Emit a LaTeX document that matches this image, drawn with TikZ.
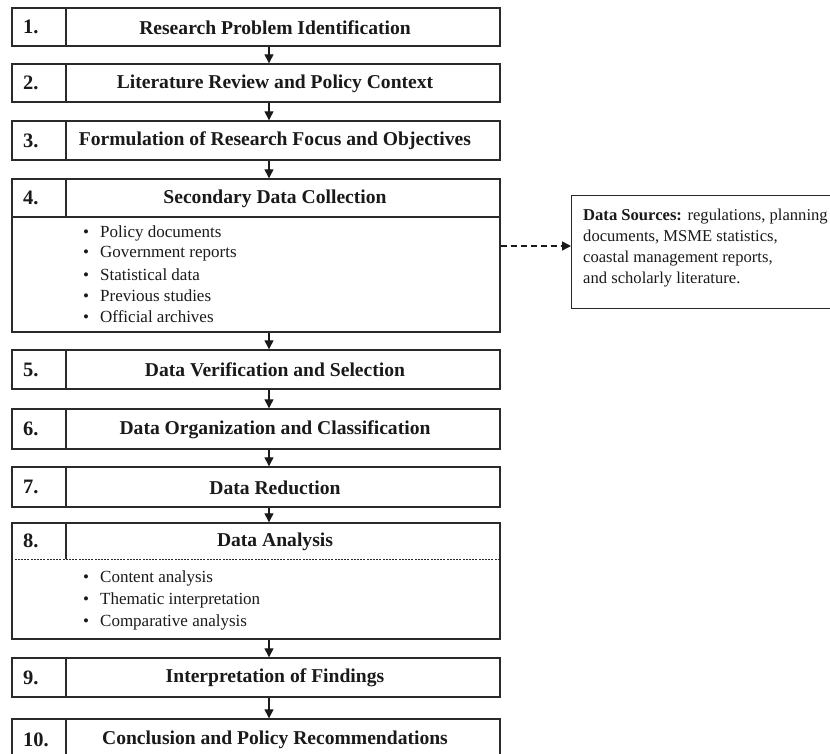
\documentclass[tikz,border=0pt]{standalone}
\usepackage{fontspec}
\setmainfont{Liberation Serif}
\usetikzlibrary{arrows.meta}
\definecolor{ink}{HTML}{1A1A1A}
\definecolor{edge}{HTML}{2A2A2A}
\tikzset{
  stepbox/.style={draw=edge, line width=1.4pt, minimum width=488pt, inner sep=0pt, fill=none},
  numtxt/.style={anchor=west, text=ink, font=\fontsize{20.5}{22}\selectfont\bfseries, inner sep=0pt},
  titletxt/.style={text=ink, font=\fontsize{19.6}{22}\selectfont\bfseries, inner sep=0pt},
  itemtxt/.style={anchor=west, text=ink, font=\fontsize{17}{21}\selectfont, inner sep=0pt},
  flow/.style={draw=ink, line width=1.3pt, -{Triangle[length=9pt,width=9pt]}},
  divider/.style={draw=edge, line width=1.4pt},
}
\begin{document}
\begin{tikzpicture}[x=1pt,y=-1pt]
\clip (0,0) rectangle (830,754);
\fill[white] (0,0) rectangle (830,754);
\coordinate (ax) at (269,0);
% steps: number / top / bottom / header bottom / title
\foreach \n/\t/\b/\h/\txt in {
  1/8/46/46/Research Problem Identification,
  2/64/102/102/Literature Review and Policy Context,
  3/121/160/160/Formulation of Research Focus and Objectives,
  4/179/332/217/Secondary Data Collection,
  5/350/389/389/Data Verification and Selection,
  6/409/449/449/Data Organization and Classification,
  7/467/507/507/Data Reduction,
  8/523/639/559/Data Analysis,
  9/658/697/697/Interpretation of Findings,
  10/719/760/760/Conclusion and Policy Recommendations}{
  \pgfmathsetmacro{\cy}{(\t+\b)/2}
  \pgfmathsetmacro{\hh}{\b-\t}
  \pgfmathsetmacro{\my}{(\t+\h)/2}
  \node[stepbox, minimum height=\hh pt] (b\n) at (256,\cy) {};
  \draw[divider] (66,\t) -- (66,\h);
  \node[numtxt] (n\n) at (23,\my) {\n.};
  \node[titletxt] (t\n) at (275,\my+0.5) {\txt};
}
% header separators
\draw[divider] (b4.west |- 0,217) -- (b4.east |- 0,217);
\draw[draw=edge, line width=0.8pt, dash pattern=on 2pt off 1.2pt] (b8.west |- 0,559) -- (b8.east |- 0,559);
% bullet items
\foreach \y/\txt [count=\i] in {233/Policy documents, 254/Government reports, 275/Statistical data, 296/Previous studies, 317/Official archives}{
  \node[itemtxt] (a\i) at (83,\y) {\makebox[17pt][l]{\textbullet}\txt};
}
\foreach \y/\txt [count=\i] in {578/Content analysis, 600/Thematic interpretation, 622/Comparative analysis}{
  \node[itemtxt] (c\i) at (83,\y) {\makebox[17pt][l]{\textbullet}\txt};
}
% flow arrows
\foreach \a/\b in {1/2,2/3,3/4,4/5,5/6,6/7,7/8,8/9,9/10}{
  \draw[flow] (b\a.south -| ax) -- (b\b.north -| ax);
}
% data sources
\node[draw=edge, line width=1.4pt, minimum width=280pt, minimum height=113pt, inner sep=0pt, anchor=north west] (ds) at (571,195) {};
\node[anchor=north west, text=ink, align=left, inner sep=0pt, font=\fontsize{16.6}{21}\selectfont] (dst) at (583,209) {\textbf{Data Sources:} regulations, planning\\documents, MSME statistics,\\coastal management reports,\\and scholarly literature.};
\coordinate (dy) at (0,246);
\draw[draw=ink, line width=1.4pt, dash pattern=on 6pt off 4pt, -{Triangle[length=9pt,width=9pt]}] (b4.east |- dy) -- (ds.west |- dy);
\end{tikzpicture}
\end{document}
